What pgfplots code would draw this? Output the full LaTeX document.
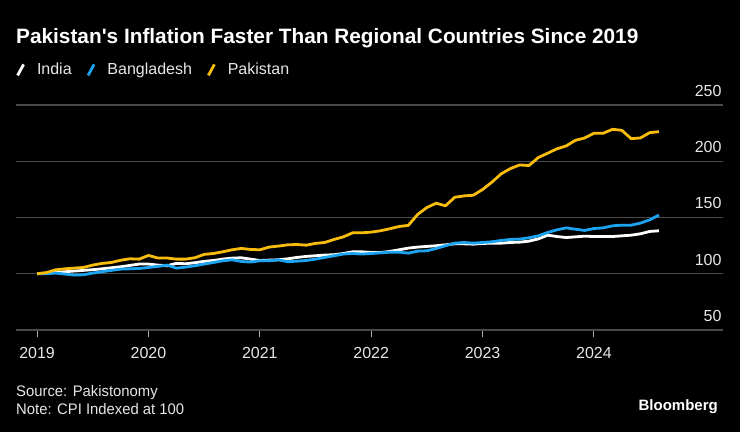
\documentclass[border=0pt]{standalone}
\usepackage{pgfplots}
\pgfplotsset{compat=1.18}
\usepackage{pgfplotstable}
\usepackage{fontspec}
\setmainfont{Liberation Sans}
\newfontfamily\condfont[FakeStretch=0.97]{Liberation Sans}
\definecolor{bgdblue}{HTML}{1DA4F0}
\definecolor{pakgold}{HTML}{F8BC0C}
\definecolor{gridgray}{HTML}{4A4A4A}
\definecolor{basegray}{HTML}{B0B0B0}
\definecolor{ticktext}{HTML}{E6E6E6}
\pgfplotstableread{
m ind bgd pak
0 100 100 100
1 100.6 100 101
2 101.2 100.6 103.5
3 101.8 99.7 104.4
4 102.4 98.8 105
5 103 99.1 105.6
6 103.6 100.6 107.7
7 104.4 101.8 109.2
8 105.3 103 110
9 106.2 104.1 112
10 107.4 104.4 113.3
11 108.6 104.7 113
12 108.6 105.6 116.3
13 107.7 106.5 114
14 107.1 107.7 114
15 109.2 105 113
16 108.9 105.9 113
17 109.8 107.1 114.2
18 111 108.6 117.2
19 111.8 110 118
20 113 111.5 119.5
21 113.9 112.4 121.3
22 114.2 110.9 122.5
23 113 110.4 121.6
24 111.8 111.5 121.3
25 112.1 111.5 123.7
26 112.4 112.4 124.6
27 113.3 110.7 125.7
28 114.5 111.2 126
29 115.4 111.8 125.4
30 116 113 127
31 116.6 114.5 127.8
32 116.9 116 130.5
33 118 117.5 132.8
34 119.5 118 136.4
35 119.5 117.5 136.4
36 118.9 118 137
37 118.9 118.6 138.2
38 119.8 119.2 140
39 121.3 119.2 142
40 122.8 118.3 143
41 123.7 120.1 152.7
42 124.3 120.4 158.9
43 124.9 122.5 162.7
44 125.7 124.9 160.4
45 126.6 127.2 168
46 126.6 127.8 169.2
47 126.3 127.2 169.8
48 126.9 127.8 174.9
49 127.2 128.4 181.4
50 127.2 129.6 188.8
51 127.8 130.5 193.5
52 128.1 130.8 196.7
53 129 132 196.2
54 131 133.7 203.3
55 134.3 136.7 207.1
56 133.1 139 211
57 132.2 140.8 213.6
58 132.8 139.6 218.6
59 133.4 138.5 220.7
60 133.1 140.2 224.9
61 133.1 140.8 224.9
62 133.1 142.6 228.4
63 133.7 143.2 227.5
64 134.3 143.2 220.1
65 135.5 145 220.7
66 137.6 147.9 225.4
67 138.2 152.1 226.3
}\datatable
\begin{document}
\begin{tikzpicture}[x=1pt,y=1pt]
\fill[black] (0,0) rectangle (740,432);
\useasboundingbox (0,0) rectangle (740,432);
\node[anchor=west, inner sep=0pt, text=white, font=\fontsize{20.8}{24}\selectfont\bfseries] at (16,394) {Pakistan\textquotesingle s Inflation Faster Than Regional Countries Since 2019};
\node[anchor=west, inner sep=0pt, text=ticktext, font=\condfont\fontsize{15.3}{17}\selectfont] at (16,39) {Source: Pakistonomy};
\node[anchor=west, inner sep=0pt, text=ticktext, font=\condfont\fontsize{15.3}{17}\selectfont] at (16,22.5) {Note: CPI Indexed at 100};
\node[anchor=east, inner sep=0pt, text=white, font=\fontsize{15}{17}\selectfont\bfseries] at (718,25) {Bloomberg};
\begin{axis}[
  at={(16pt,102pt)}, anchor=south west,
  scale only axis, width=707pt, height=225pt,
  xmin=-2.27, xmax=73.9, ymin=50, ymax=250,
  axis line style={draw=none},
  xtick={0,12,24,36,48,60},
  xticklabels={2019,2020,2021,2022,2023,2024},
  xtick pos=bottom, tick align=outside,
  major tick length=7pt,
  xtick style={draw=basegray, line width=1pt},
  xticklabel style={yshift=-7pt},
  ytick={100,150,200,250},
  extra y ticks={50},
  extra y tick style={grid style={draw=basegray, line width=1.6pt}},
  ytick style={draw=none},
  yticklabel pos=right,
  ymajorgrids,
  major grid style={draw=gridgray, line width=1.3pt},
  yticklabel style={anchor=south east, xshift=-5pt, yshift=5pt},
  ticklabel style={text=ticktext, font=\fontsize{16}{18}\selectfont},
  /pgf/number format/assume math mode=true,
  /pgf/number format/set thousands separator={},
  legend style={at={(axis description cs:0,1.156)}, anchor=west, draw=none, fill=none, inner sep=0pt,
    text=ticktext, font=\fontsize{16}{18}\selectfont,
    /tikz/every odd column/.append style={column sep=10pt},
    /tikz/every even column/.append style={column sep=13pt}},
  legend columns=-1,
  legend cell align=left,
  legend image code/.code={\draw[#1, line width=2.8pt] (0pt,-5.5pt) -- (6pt,5.5pt);},
]
\addplot[white, line width=2.8pt, line join=round] table[x=m, y=ind] {\datatable};
\addlegendentry{India}
\addplot[bgdblue, line width=2.8pt, line join=round] table[x=m, y=bgd] {\datatable};
\addlegendentry{Bangladesh}
\addplot[pakgold, line width=2.8pt, line join=round] table[x=m, y=pak] {\datatable};
\addlegendentry{Pakistan}
\end{axis}
\end{tikzpicture}
\end{document}
